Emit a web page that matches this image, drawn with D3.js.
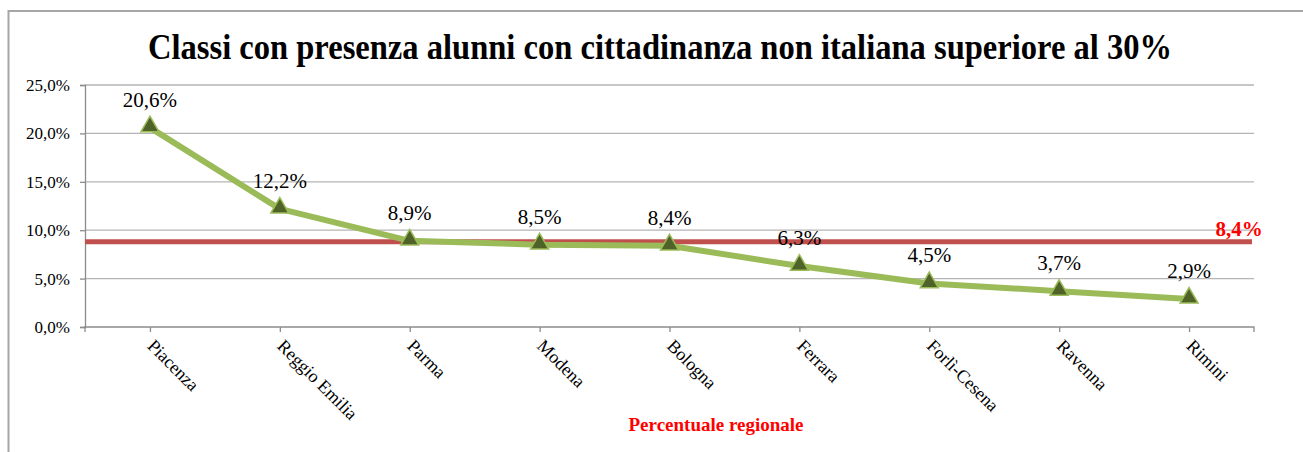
<!DOCTYPE html>
<html><head><meta charset="utf-8">
<script src="https://cdn.jsdelivr.net/npm/d3@7"></script>
<style>
html,body{margin:0;padding:0;background:#fff;}
svg{display:block;}
</style></head>
<body>
<svg id="chart" width="1303" height="452"></svg>
<script>
const categories = ["Piacenza","Reggio Emilia","Parma","Modena","Bologna","Ferrara","Forlì-Cesena","Ravenna","Rimini"];
const values = [20.6, 12.2, 8.9, 8.5, 8.4, 6.3, 4.5, 3.7, 2.9];
const labels = ["20,6%","12,2%","8,9%","8,5%","8,4%","6,3%","4,5%","3,7%","2,9%"];
const yTicks = [0, 5, 10, 15, 20, 25];
const yTickLabels = ["0,0%","5,0%","10,0%","15,0%","20,0%","25,0%"];
const regionalLineValue = 8.8;
const regionalLabel = "8,4%";
const title = "Classi con presenza alunni con cittadinanza non italiana superiore al 30%";
const legendLabel = "Percentuale regionale";

const SERIF = '"Liberation Serif"';
const svg = d3.select("#chart");
const mLeft = 85, mRight = 1254, mTop = 85, mBottom = 327;

// chart frame
svg.append("path").attr("d", "M8.5,460 L8.5,11 L1310,11")
  .attr("fill","none").attr("stroke","#a6a6a6").attr("stroke-width",2);

const x = d3.scalePoint().domain(categories).range([mLeft, mRight]).padding(0.5);
const y = d3.scaleLinear().domain([0, 25]).range([mBottom, mTop]);

// title
svg.append("text").attr("x", 660).attr("y", 59).attr("text-anchor","middle")
  .style("font-family", SERIF).attr("font-weight","bold").attr("font-size", 35)
  .attr("textLength", 1024).attr("lengthAdjust","spacingAndGlyphs")
  .attr("fill","#000").text(title);

// gridlines
svg.append("g").selectAll("line").data(yTicks.filter(d => d > 0)).join("line")
  .attr("x1", mLeft).attr("x2", mRight).attr("y1", d => y(d)).attr("y2", d => y(d))
  .attr("stroke","#b5b5b5").attr("stroke-width",1.3);

// y axis
const yAxis = d3.axisLeft(y).tickValues(yTicks).tickFormat((d,i) => yTickLabels[i]).tickSize(5).tickPadding(10);
const gy = svg.append("g").attr("transform", `translate(${mLeft},0)`).call(yAxis);
gy.attr("font-family", null);
gy.select(".domain").attr("stroke","#8c8c8c").attr("stroke-width",1.3);
gy.selectAll(".tick line").attr("stroke","#8c8c8c").attr("stroke-width",1.3);
gy.selectAll("text").style("font-family", SERIF).attr("font-size",17).attr("fill","#000");

// x axis
const xAxis = d3.axisBottom(x).tickSize(5).tickSizeOuter(0).tickFormat(d => d);
const gx = svg.append("g").attr("transform", `translate(0,${mBottom})`).call(xAxis);
gx.attr("font-family", null);
gx.select(".domain").attr("stroke","#8c8c8c").attr("stroke-width",1.3).attr("d", `M${mLeft},5V0H${mRight}V5`);
gx.selectAll(".tick line").attr("stroke","#8c8c8c").attr("stroke-width",1.3);
gx.selectAll("text")
  .style("font-family", SERIF).attr("font-size",18).attr("fill","#000")
  .attr("text-anchor","start").attr("dy",null).attr("y",0)
  .attr("transform","translate(-4,20) rotate(45)");

// regional line
svg.append("line").attr("x1", mLeft).attr("x2", mRight - 2)
  .attr("y1", y(regionalLineValue)).attr("y2", y(regionalLineValue))
  .attr("stroke","#c0504d").attr("stroke-width",5);

// series line
const line = d3.line().x((d,i) => x(categories[i])).y(d => y(d));
svg.append("path").datum(values).attr("d", line).attr("fill","none")
  .attr("stroke","#9bbb59").attr("stroke-width",6).attr("stroke-linejoin","round");

// markers
const tri = d3.symbol().type(d3.symbolTriangle).size(140);
svg.append("g").selectAll("path").data(values).join("path")
  .attr("d", tri)
  .attr("transform", (d,i) => `translate(${x(categories[i])},${y(d) - 1})`)
  .attr("fill","#4f6228").attr("stroke","#9bbb59").attr("stroke-width",1.5);

// data labels
svg.append("g").selectAll("text").data(values).join("text")
  .attr("x", (d,i) => x(categories[i]))
  .attr("y", d => y(d) - 21)
  .attr("text-anchor","middle").style("font-family", SERIF).attr("font-size",21).attr("fill","#000")
  .text((d,i) => labels[i]);

// regional label
svg.append("text").attr("x", 1239).attr("y", 236).attr("text-anchor","middle")
  .style("font-family", SERIF).attr("font-weight","bold").attr("font-size",21).attr("fill","#ff0000").text(regionalLabel);

svg.append("text").attr("x", 716).attr("y", 431).attr("text-anchor","middle")
  .style("font-family", SERIF).attr("font-weight","bold").attr("font-size",19).attr("fill","#ff0000").text(legendLabel);
</script>
</body></html>
